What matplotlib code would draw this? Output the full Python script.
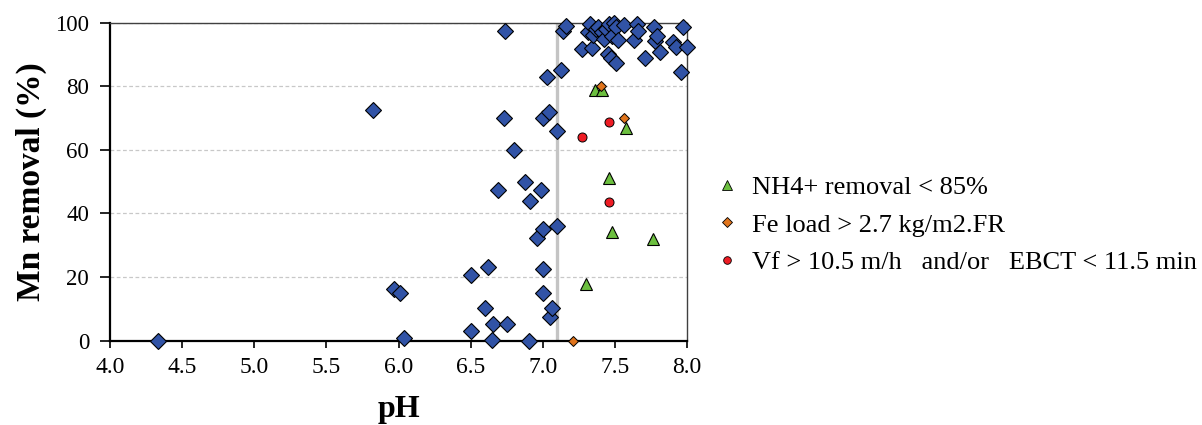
import matplotlib.pyplot as plt
from matplotlib.lines import Line2D

plt.rcParams['font.family'] = ['Liberation Serif', 'DejaVu Serif']

# all filters: pH vs Mn removal (%)
ph_all = [4.33, 5.82, 5.97, 6.01, 6.04, 6.50, 6.50, 6.60, 6.62, 6.645, 6.655,
          6.69, 6.73, 6.74, 6.75, 6.80, 6.88, 6.905, 6.91, 6.96, 6.99, 7.00,
          7.00, 7.00, 7.00, 7.03, 7.04, 7.05, 7.065, 7.10, 7.10, 7.125, 7.14,
          7.16, 7.27, 7.31, 7.33, 7.34, 7.345, 7.37, 7.38, 7.41, 7.425, 7.437,
          7.45, 7.46, 7.47, 7.477, 7.495, 7.507, 7.51, 7.52, 7.56, 7.634,
          7.653, 7.657, 7.71, 7.77, 7.78, 7.795, 7.81, 7.90, 7.92, 7.96,
          7.97, 8.00]
mn_all = [0, 72.5, 16.2, 15, 1, 20.6, 3, 10.2, 23.2, 0.2, 5.1,
          47.3, 70, 97.5, 5.1, 60, 50, 0, 44, 32.4, 47.5, 35,
          22.5, 15.1, 70, 82.8, 72, 7.4, 10.2, 36, 66, 85, 97.3,
          98.9, 91.7, 97, 99.6, 92, 96.2, 98, 98.7, 97, 95, 98,
          90.2, 99.6, 88.9, 95.9, 100, 98.5, 87.4, 94.6, 99.4, 94.6,
          99.6, 97.3, 88.9, 98.5, 94.4, 95.9, 90.7, 94, 92.2, 84.5,
          98.8, 92.2]

# NH4+ removal < 85%
ph_nh4 = [7.30, 7.36, 7.41, 7.456, 7.477, 7.576, 7.766]
mn_nh4 = [17.9, 78.7, 78.7, 51.3, 34.1, 66.8, 32]

# Fe load > 2.7 kg/m2.FR
ph_fe = [7.206, 7.40, 7.56]
mn_fe = [0, 80.1, 70]

# high filtration rate / short EBCT
ph_vf = [7.275, 7.456, 7.456]
mn_vf = [64, 68.8, 43.7]

blue = '#3153a6'
green = '#6cbf3f'
orange = '#e0741c'
red = '#ee1c24'

fig = plt.figure(figsize=(12.02, 4.25), dpi=100)
ax = fig.add_axes([0.0915, 0.1984, 0.4801, 0.7482])

ax.set_xlim(4.0, 8.0)
ax.set_ylim(0, 100)
ax.set_xticks([4.0 + 0.5 * i for i in range(9)])
ax.set_xticklabels([f'{4.0 + 0.5 * i:.1f}' for i in range(9)])
ax.set_yticks(range(0, 101, 20))

ax.grid(axis='y', linestyle=(0, (3, 2)), color='#c8c8c8', linewidth=0.9)
ax.set_axisbelow(True)
ax.axvline(7.1, color='#c4c4c4', linewidth=2.4, zorder=1)

ax.plot(ph_all, mn_all, 'D', color=blue, markeredgecolor='black',
        markeredgewidth=0.8, markersize=8, clip_on=False, zorder=3)
ax.plot(ph_nh4, mn_nh4, '^', color=green, markeredgecolor='black',
        markeredgewidth=0.8, markersize=8.5, clip_on=False, zorder=4)
ax.plot(ph_fe, mn_fe, 'D', color=orange, markeredgecolor='black',
        markeredgewidth=0.7, markersize=5.5, clip_on=False, zorder=5)
ax.plot(ph_vf, mn_vf, 'o', color=red, markeredgecolor='black',
        markeredgewidth=0.7, markersize=6.5, clip_on=False, zorder=5)

for side in ('left', 'bottom'):
    ax.spines[side].set_linewidth(1.6)
    ax.spines[side].set_color('black')
for side in ('top', 'right'):
    ax.spines[side].set_linewidth(1.0)
    ax.spines[side].set_color('#404040')

ax.tick_params(axis='y', direction='out', length=7, width=1.2, labelsize=16.5, pad=8)
ax.tick_params(axis='x', direction='out', length=5, width=1.2, labelsize=17, pad=7)

ax.set_xlabel('pH', fontsize=23, fontweight='bold', labelpad=12)
ax.set_ylabel('Mn removal (%)', fontsize=24, fontweight='bold', labelpad=6)

handles = [
    Line2D([], [], linestyle='none', marker='^', color=green,
           markeredgecolor='black', markeredgewidth=0.6, markersize=6.5),
    Line2D([], [], linestyle='none', marker='D', color=orange,
           markeredgecolor='black', markeredgewidth=0.6, markersize=5),
    Line2D([], [], linestyle='none', marker='o', color=red,
           markeredgecolor='black', markeredgewidth=0.6, markersize=5.5),
]
labels = ['NH4+ removal < 85%', 'Fe load > 2.7 kg/m2.FR',
          'Vf > 10.5 m/h   and/or   EBCT < 11.5 min']
fig.legend(handles, labels, loc='center left', bbox_to_anchor=(0.587, 0.471),
           frameon=False, fontsize=19, handlelength=0.8, handletextpad=0.55,
           labelspacing=0.52, borderaxespad=0)

fig.savefig('out.png', dpi=100)
